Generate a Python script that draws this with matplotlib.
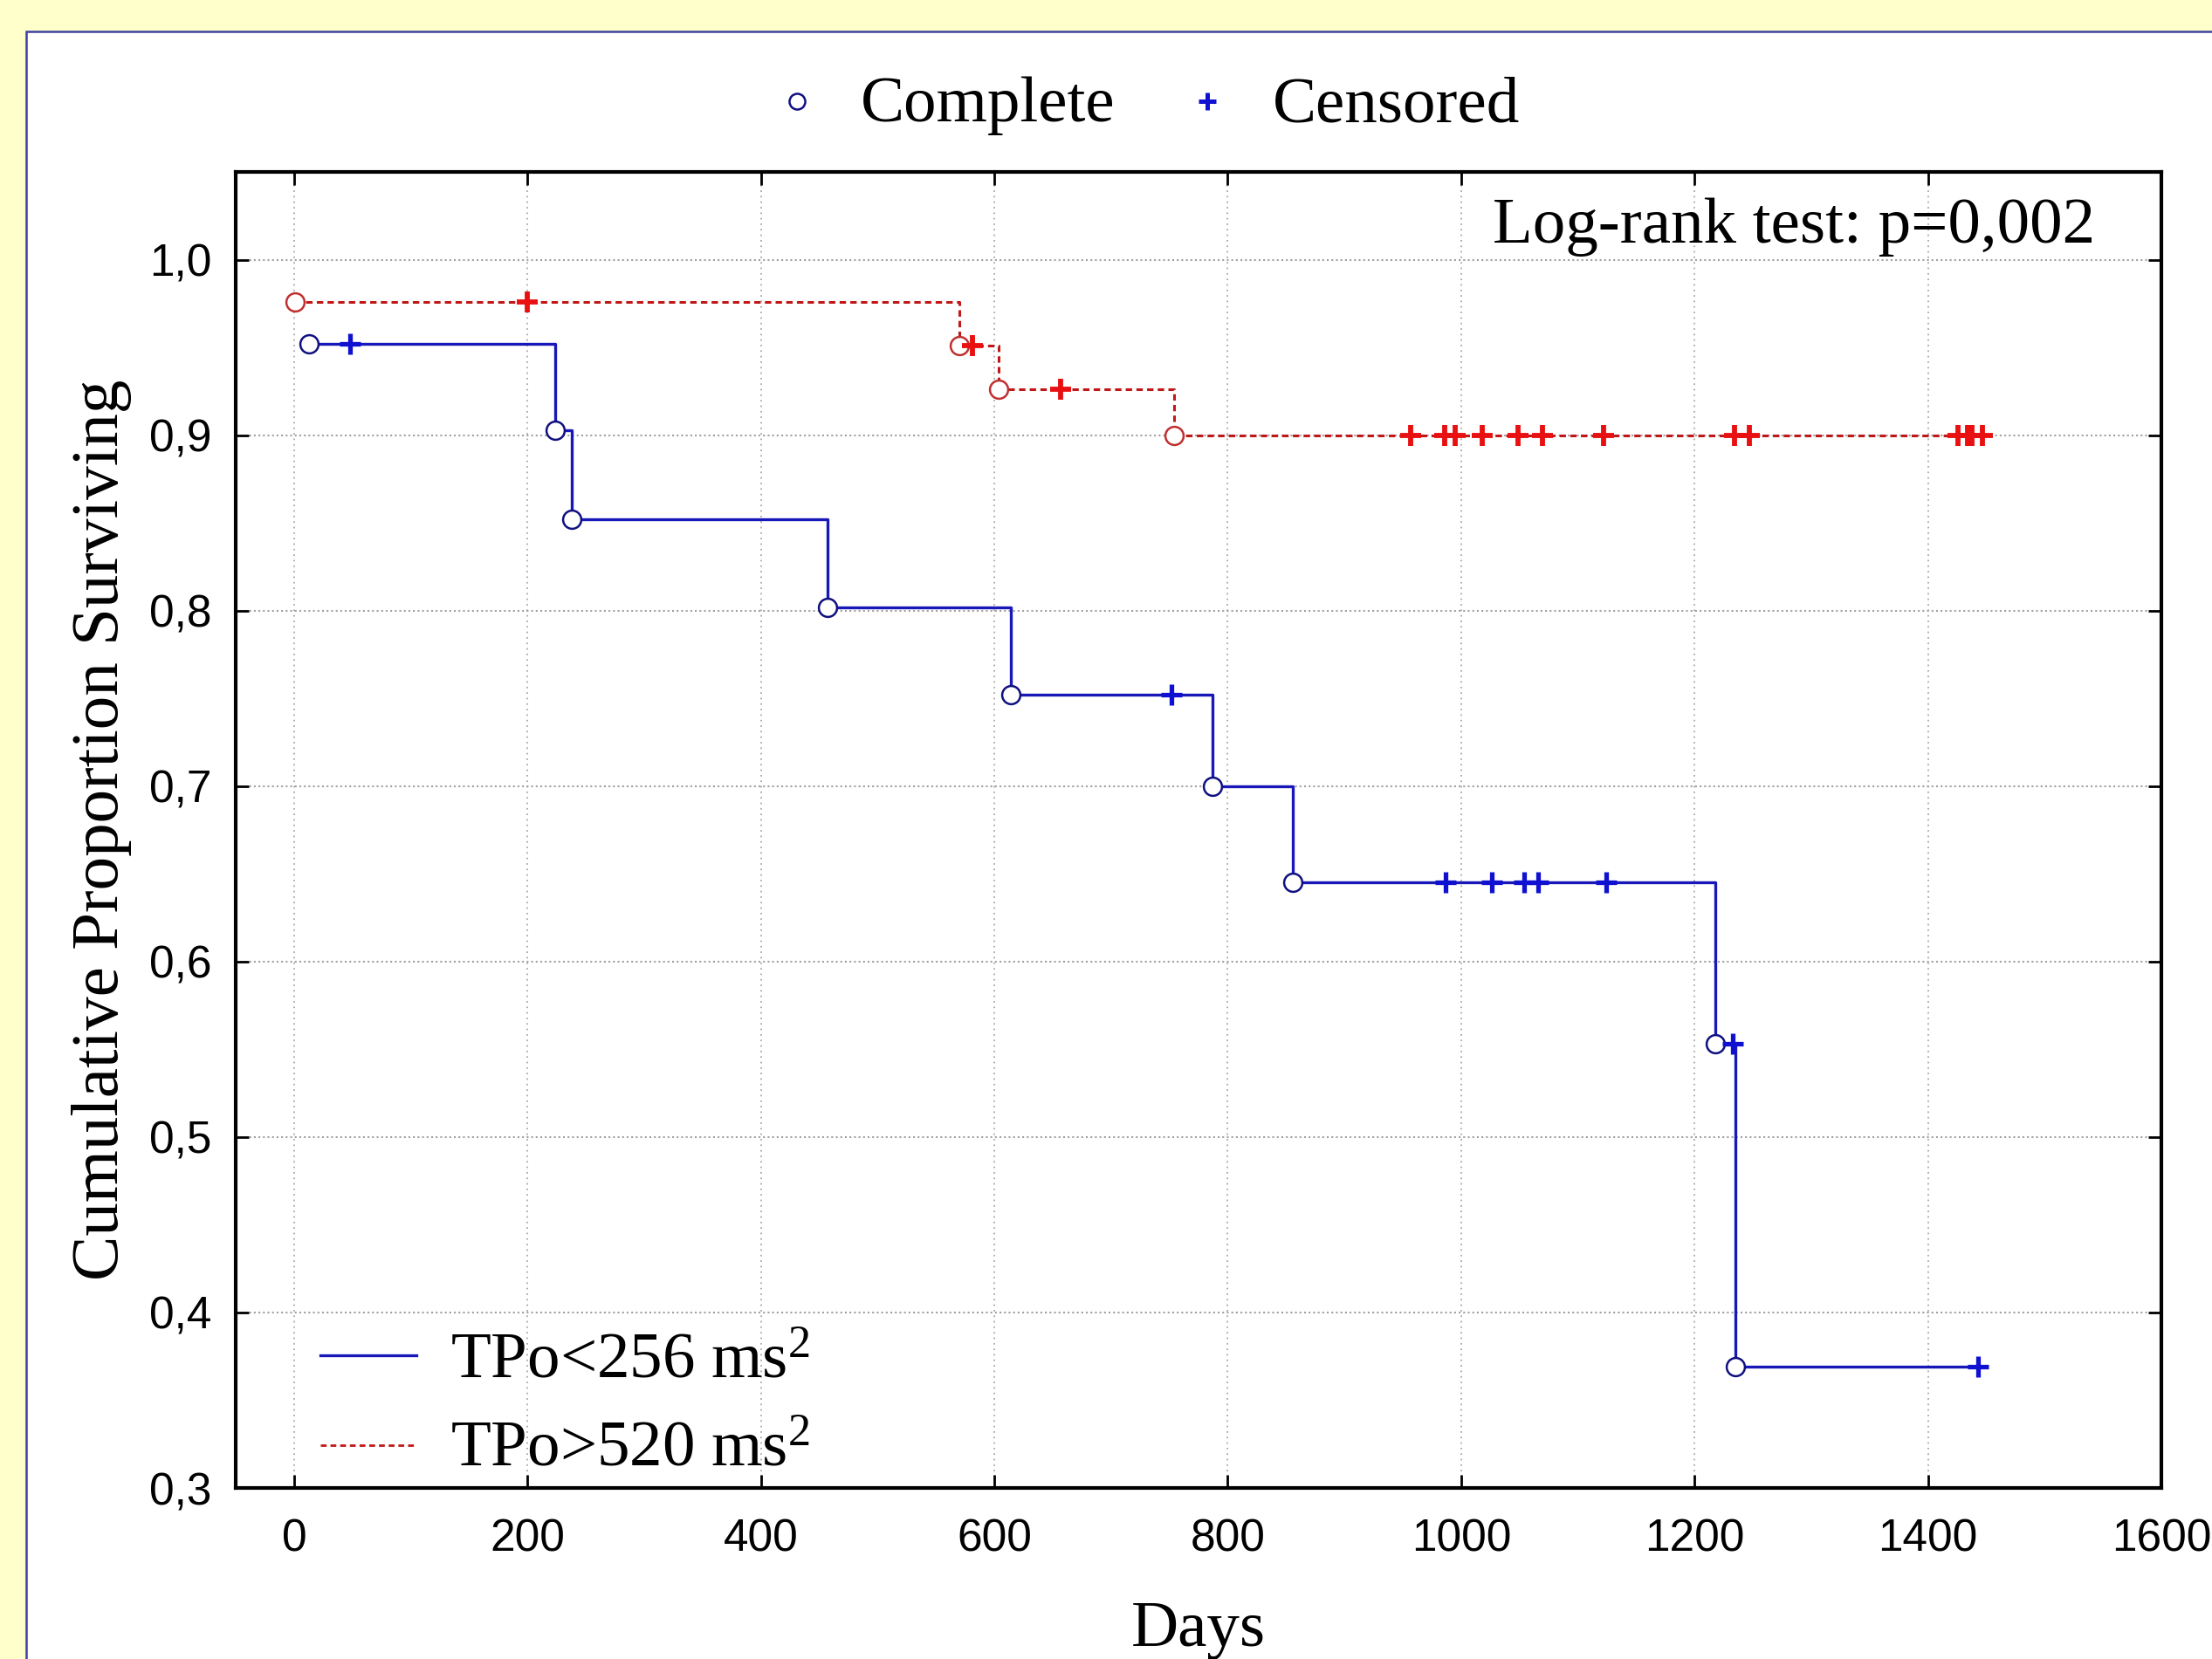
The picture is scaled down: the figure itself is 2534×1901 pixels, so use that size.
import matplotlib
matplotlib.use("Agg")
import matplotlib.pyplot as plt
import numpy as np
from matplotlib.lines import Line2D
from matplotlib.patches import Rectangle

# ---------------- data ----------------
low_event_days = [13, 224, 238, 457, 614, 787, 856, 1218, 1235]
low_event_surv = [0.952, 0.903, 0.852, 0.802, 0.752, 0.700, 0.645, 0.553, 0.369]
low_censor_days = [48, 752, 987, 1026, 1054, 1066, 1124, 1233, 1443]

high_event_days = [1, 570, 604, 754]
high_event_surv = [0.976, 0.951, 0.926, 0.900]
high_censor_days = [200, 581, 657, 957, 986, 995, 1018, 1049, 1070, 1122,
                    1234, 1247, 1426, 1434, 1438, 1447]

series_labels = ["TPo<256 ms$^{2}$", "TPo>520 ms$^{2}$"]
marker_labels = ["Complete", "Censored"]
x_ticks = [0, 200, 400, 600, 800, 1000, 1200, 1400, 1600]
y_ticks = [0.3, 0.4, 0.5, 0.6, 0.7, 0.8, 0.9, 1.0]
annotation = "Log-rank test: p=0,002"
x_label = "Days"
y_label = "Cumulative Proportion Surviving"

# ---------------- style ----------------
plt.rcParams["font.family"] = ["Liberation Serif", "DejaVu Serif"]
plt.rcParams["mathtext.fontset"] = "custom"
plt.rcParams["mathtext.rm"] = "Liberation Serif"
plt.rcParams["mathtext.it"] = "Liberation Serif:italic"

W, H = 2534, 1901
fig = plt.figure(figsize=(W / 100, H / 100), dpi=100, facecolor="#FFFFCC")

def fx(px):
    return px / W

def fy(py):
    return 1 - py / H

# white panel with blue border
panel = Rectangle((fx(30), -0.2), 1.2, fy(36) + 0.2, transform=fig.transFigure,
                  facecolor="white", edgecolor="#4040A0", linewidth=1.8, zorder=-10)
fig.patches.append(panel)

ax = fig.add_axes([fx(270), fy(1705), fx(2476) - fx(270), fy(197) - fy(1705)])
ax.set_zorder(1)
ax.set_facecolor("white")
ax.set_xlim(-50, 1600)
ax.set_ylim(0.3, 1.05)

BLUE = "#1818B8"
BLUE_DARK = "#101080"
RED_LINE = "#C01818"
RED = "#E81010"


def surv_at(t, days, surv):
    idx = np.searchsorted(days, t, side="right") - 1
    return np.asarray(surv)[idx]


# blue curve
bx = list(low_event_days) + [low_censor_days[-1]]
by = list(low_event_surv) + [low_event_surv[-1]]
ax.step(bx, by, where="post", color=BLUE, linewidth=2.4, zorder=3)
# red curve
rx = list(high_event_days) + [high_censor_days[-1]]
ry = list(high_event_surv) + [high_event_surv[-1]]
ax.step(rx, ry, where="post", color=RED_LINE, linewidth=2.2,
        linestyle=(0, (2.4, 1.6)), zorder=3)

# complete (event) markers
ax.plot(low_event_days, low_event_surv, linestyle="none", marker="o", markersize=15,
        markerfacecolor="white", markeredgecolor=BLUE_DARK, markeredgewidth=1.8, zorder=4)
ax.plot(high_event_days, high_event_surv, linestyle="none", marker="o", markersize=15,
        markerfacecolor="white", markeredgecolor="#C03030", markeredgewidth=1.8, zorder=4)

# censored markers
ax.plot(low_censor_days, surv_at(low_censor_days, low_event_days, low_event_surv),
        linestyle="none", marker="+", markersize=17, markeredgewidth=3.8,
        color="#1010D0", zorder=5)
ax.plot(high_censor_days, surv_at(high_censor_days, high_event_days, high_event_surv),
        linestyle="none", marker="+", markersize=17, markeredgewidth=4.2,
        color=RED, zorder=5)

# axes styling
ax.set_xticks(x_ticks, labels=[str(v) for v in x_ticks],
              fontfamily="Liberation Sans", fontsize=37)
ax.set_yticks(y_ticks, labels=[f"{v:.1f}".replace(".", ",") for v in y_ticks],
              fontfamily="Liberation Sans", fontsize=37)
ax.tick_params(axis="both", which="major", direction="in", top=True, right=True,
               length=11, width=2.0, colors="black")
ax.tick_params(axis="x", pad=25)
ax.tick_params(axis="y", pad=20)
for s in ax.spines.values():
    s.set_linewidth(3.0)
    s.set_color("black")
ax.xaxis.grid(True, color="#A8A8A8", linestyle=(0, (1, 2.5)), linewidth=1.3)
ax.yaxis.grid(True, color="#A0A0A0", linestyle=(0, (1, 1.5)), linewidth=1.5)
ax.set_axisbelow(True)

ax.set_xlabel(x_label, fontsize=54)
ax.xaxis.set_label_coords(0.5, -0.086)
ax.set_ylabel(y_label, fontsize=55.5)
ax.yaxis.set_label_coords(-0.054, 0.5)

# annotation
fig.text(fx(1710), fy(278), annotation, fontsize=54, ha="left", va="baseline", zorder=5)

# top marker legend
fig.add_artist(Line2D([fx(913)], [fy(116)], transform=fig.transFigure, linestyle="none",
                      marker="o", markersize=13, markerfacecolor="white",
                      markeredgecolor=BLUE_DARK, markeredgewidth=1.8))
fig.text(fx(986), fy(139), marker_labels[0], fontsize=54, ha="left", va="baseline")
fig.add_artist(Line2D([fx(1383)], [fy(116)], transform=fig.transFigure, linestyle="none",
                      marker="+", markersize=15, markeredgewidth=3.6, color="#1010D0"))
fig.text(fx(1458), fy(139), marker_labels[1], fontsize=54, ha="left", va="baseline")

# bottom series legend
l1 = Line2D([fx(367), fx(477)], [fy(1553), fy(1553)], transform=fig.transFigure,
            color=BLUE, linewidth=2.4, zorder=5)
l2 = Line2D([fx(367), fx(477)], [fy(1656), fy(1656)], transform=fig.transFigure,
            color=RED_LINE, linewidth=2.0, linestyle=(0, (2.4, 1.6)), zorder=5)
fig.add_artist(l1)
fig.add_artist(l2)
fig.text(fx(516), fy(1578), series_labels[0], fontsize=54, ha="left", va="baseline", zorder=5)
fig.text(fx(516), fy(1679), series_labels[1], fontsize=54, ha="left", va="baseline", zorder=5)

fig.savefig("out.png", dpi=100, facecolor=fig.get_facecolor())
